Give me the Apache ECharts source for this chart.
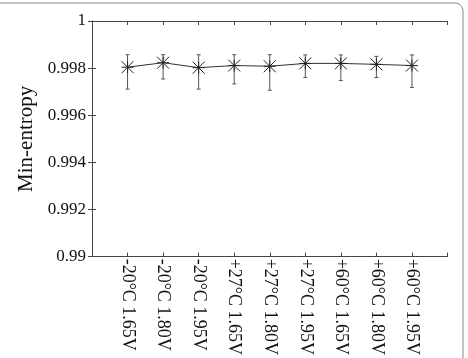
<!DOCTYPE html>
<html>
<head>
<meta charset="utf-8">
<script src="https://cdn.jsdelivr.net/npm/echarts@6/dist/echarts.min.js"></script>
<style>
	html, body { margin: 0; padding: 0; background: #fff; }
	#chart { width: 468px; height: 358px; }
</style>
</head>
<body>
<div id="chart"></div>
<script>
// 数据
var categories = ['-20°C 1.65V', '-20°C 1.80V', '-20°C 1.95V', '+27°C 1.65V', '+27°C 1.80V', '+27°C 1.95V', '+60°C 1.65V', '+60°C 1.80V', '+60°C 1.95V'];
var means = [0.99804, 0.99823, 0.99802, 0.99811, 0.99808, 0.99820, 0.99820, 0.99816, 0.99811];
var errHigh = [0.99857, 0.99857, 0.99857, 0.99857, 0.99857, 0.99856, 0.99856, 0.99850, 0.99856];
var errLow = [0.99711, 0.99754, 0.99711, 0.99733, 0.99706, 0.99760, 0.99747, 0.99760, 0.99718];
var yTicks = [0.99, 0.992, 0.994, 0.996, 0.998, 1];

var font = 'Liberation Serif';
var chart = echarts.init(document.getElementById('chart'));

var lineData = means.map(function(v, i){ return [i + 1, v]; });
var errData = means.map(function(v, i){ return [i + 1, errLow[i], errHigh[i]]; });

var option = {
	animation: false,
	backgroundColor: '#fff',
	graphic: [{
		type: 'rect',
		shape: { x: -10, y: 3, width: 473, height: 380, r: 8 },
		style: { fill: 'none', stroke: '#888', lineWidth: 1 },
		silent: true
	}],
	grid: { left: 92, top: 21, right: 20.5, bottom: 98.5 },
	xAxis: [{
		type: 'value', min: 0, max: 10, interval: 1,
		axisLine: { show: true, onZero: false, lineStyle: { color: '#444', width: 1 } },
		axisTick: { inside: true, length: 4, lineStyle: { color: '#444' } },
		splitLine: { show: false },
		axisLabel: {
			rotate: -90, margin: 2,
			fontFamily: font, fontSize: 18, color: '#111',
			formatter: function(v){ return categories[v - 1] || ''; }
		}
	}, {
		type: 'value', min: 0, max: 10, interval: 1, position: 'top',
		axisLine: { show: true, onZero: false, lineStyle: { color: '#444', width: 1 } },
		axisTick: { inside: true, length: 4, lineStyle: { color: '#444' } },
		splitLine: { show: false },
		axisLabel: { show: false }
	}],
	yAxis: [{
		type: 'value', min: 0.99, max: 1, interval: 0.002,
		name: 'Min-entropy', nameLocation: 'middle', nameGap: 44,
		nameTextStyle: { fontFamily: font, fontSize: 21, color: '#111' },
		axisLine: { show: true, lineStyle: { color: '#444', width: 1 } },
		axisTick: { inside: true, length: 4, lineStyle: { color: '#444' } },
		splitLine: { show: false },
		axisLabel: {
			margin: 6, fontFamily: font, fontSize: 17, color: '#111',
			formatter: function(v){ return yTicks.indexOf(+v.toFixed(3)) >= 0 ? String(+v.toFixed(3)) : ''; }
		}
	}, {
		type: 'value', min: 0.99, max: 1, interval: 0.002, position: 'right',
		axisLine: { show: true, lineStyle: { color: '#444', width: 1 } },
		axisTick: { inside: true, length: 4, lineStyle: { color: '#444' } },
		splitLine: { show: false },
		axisLabel: { show: false }
	}],
	series: [{
		type: 'custom',
		data: errData,
		z: 2,
		renderItem: function(params, api){
			var x = api.value(0);
			var lo = api.coord([x, api.value(1)]);
			var hi = api.coord([x, api.value(2)]);
			var w = 2;
			var st = { stroke: '#555', lineWidth: 1 };
			return {
				type: 'group',
				children: [
					{ type: 'line', shape: { x1: lo[0], y1: lo[1], x2: hi[0], y2: hi[1] }, style: st },
					{ type: 'line', shape: { x1: lo[0] - w, y1: lo[1], x2: lo[0] + w, y2: lo[1] }, style: st },
					{ type: 'line', shape: { x1: hi[0] - w, y1: hi[1], x2: hi[0] + w, y2: hi[1] }, style: st }
				]
			};
		}
	}, {
		type: 'line',
		data: lineData,
		z: 3,
		symbol: 'path://M0,0L10,10M0,10L10,0M5,0L5,10M0,5L10,5',
		symbolSize: 12,
		lineStyle: { color: '#333', width: 1 },
		itemStyle: { color: 'none', borderColor: '#222', borderWidth: 1 }
	}]
};
chart.setOption(option);
</script>
</body>
</html>
